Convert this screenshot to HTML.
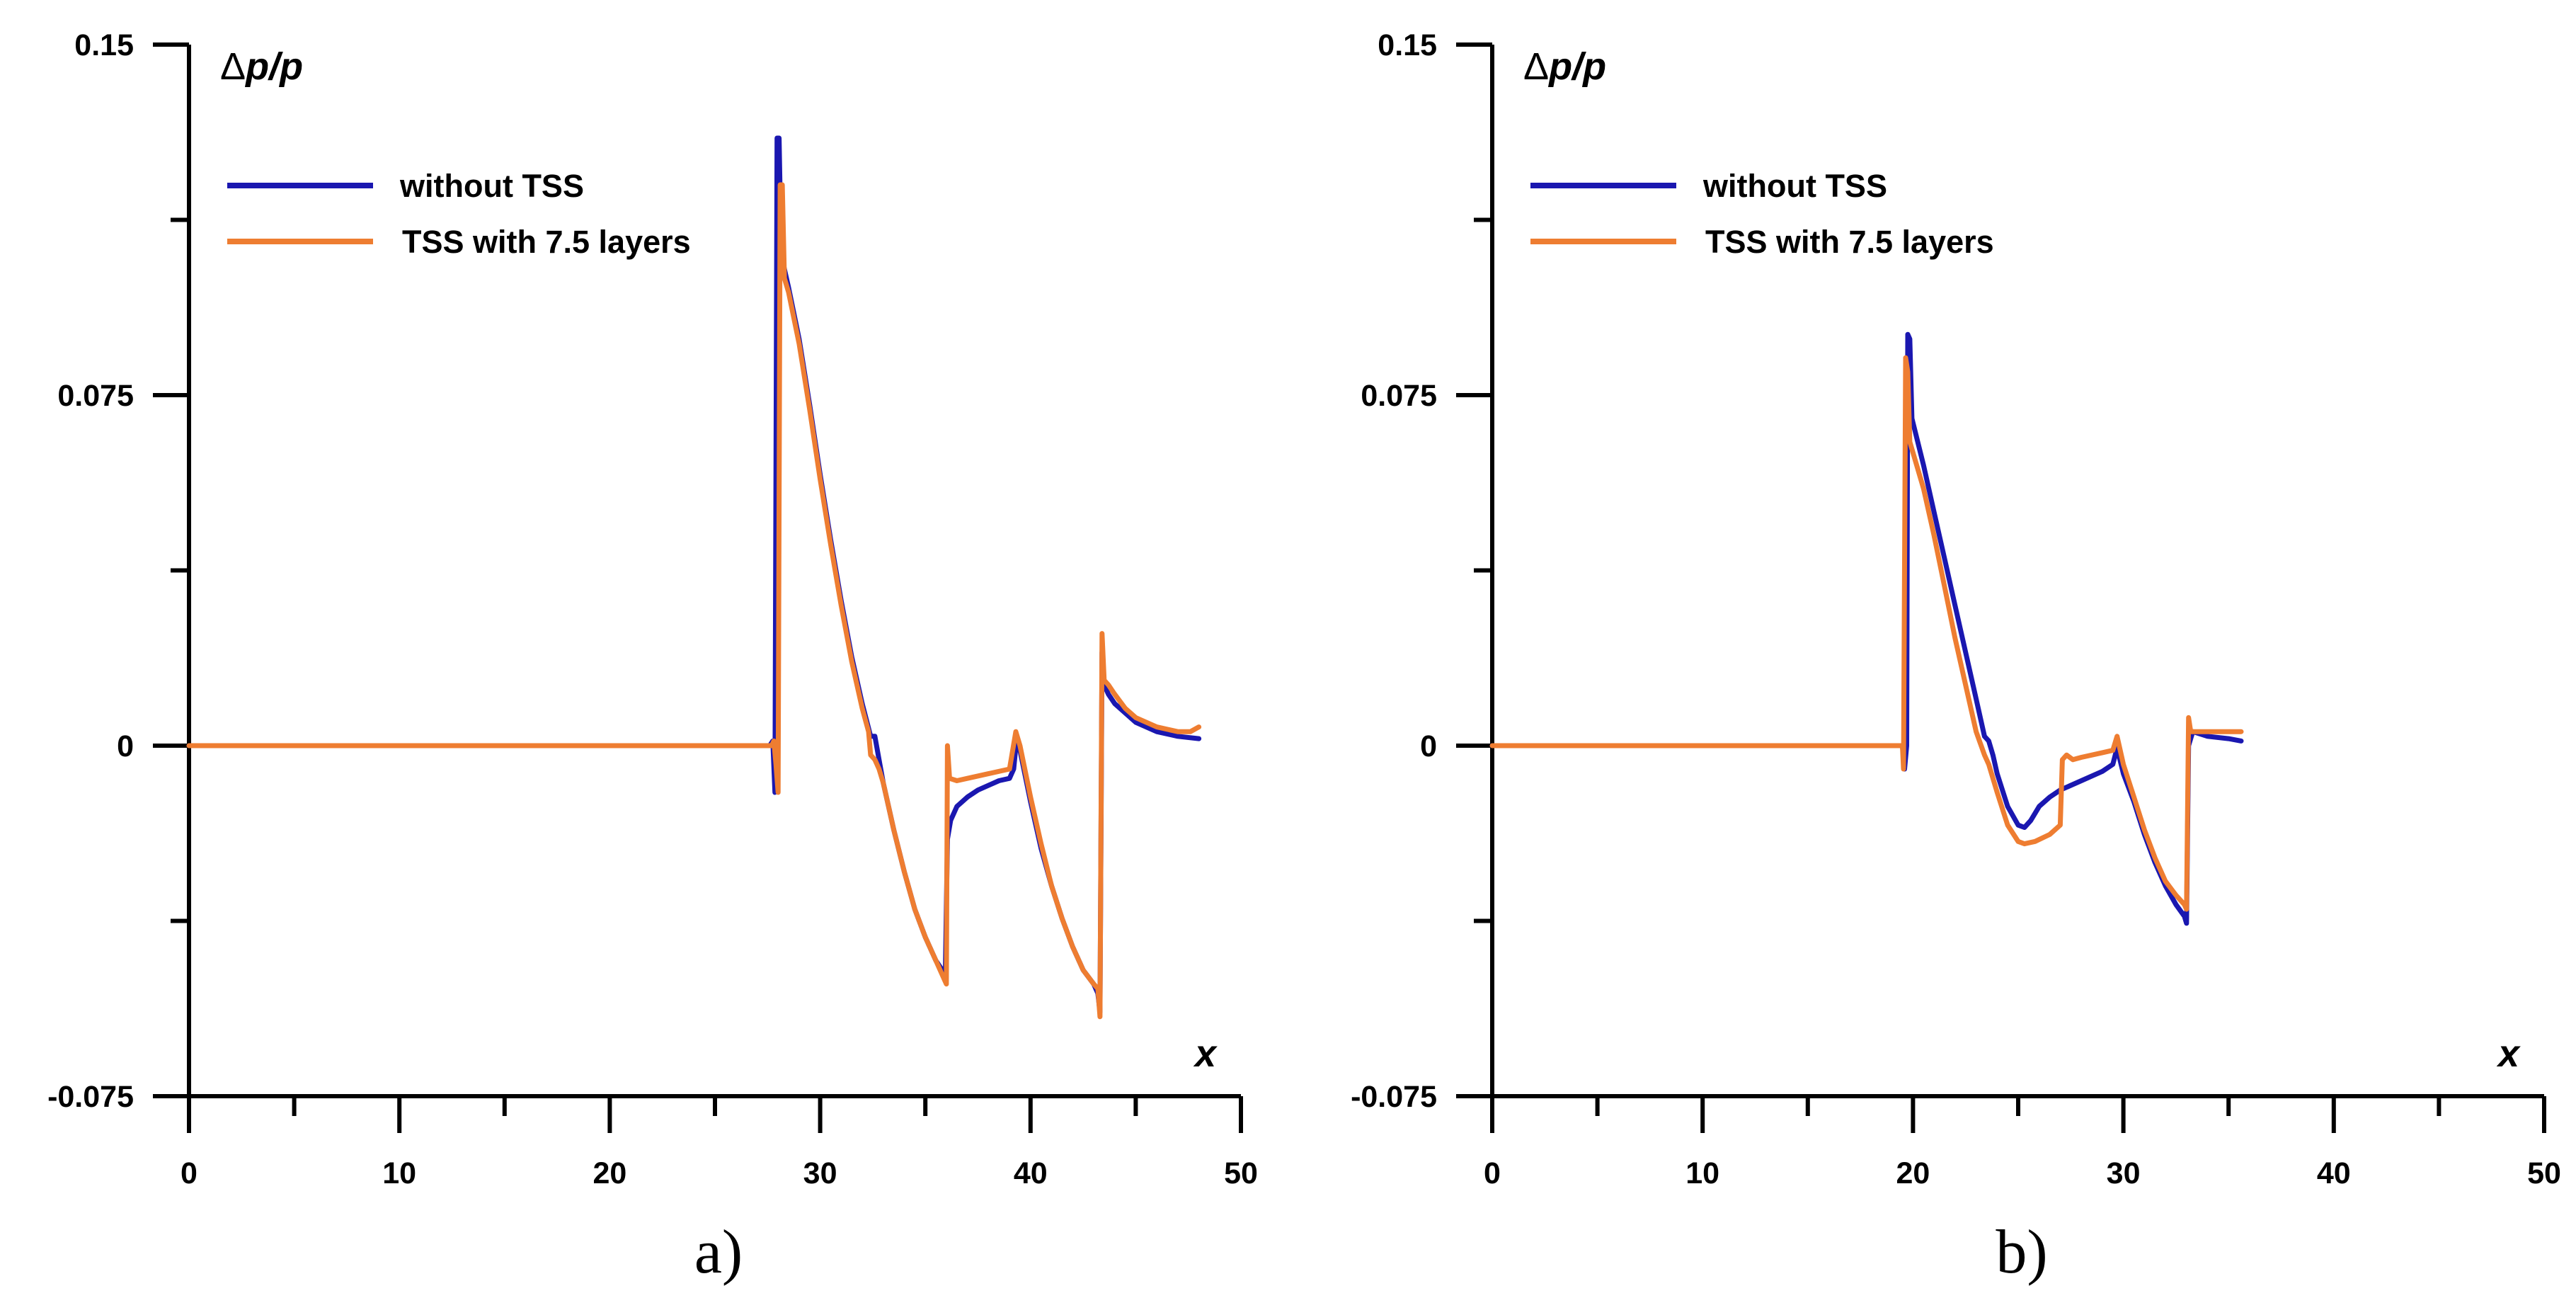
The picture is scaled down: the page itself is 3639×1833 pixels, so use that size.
<!DOCTYPE html>
<html><head><meta charset="utf-8"><style>
html,body{margin:0;padding:0;background:#fff;}
svg{display:block;}
text{font-family:"Liberation Sans",Arial,sans-serif;}
</style></head><body>
<svg id="chart" width="3639" height="1833" viewBox="0 0 3639 1833" xmlns="http://www.w3.org/2000/svg"></svg>
<script>
// ---- data ----
const xTicks = [0,10,20,30,40,50];
const yTickLabels = ["0.15","0.075","0","-0.075"];
const yTickValues = [0.15,0.075,0,-0.075];
const seriesNames = ["without TSS","TSS with 7.5 layers"];

const aBlueX = [0,27.6,27.75,27.85,27.95,28.05,28.15,28.5,29,29.5,30,30.5,31,31.5,32,32.4,32.6,32.8,33,33.5,34,34.5,35,35.5,35.8,35.95,36.05,36.2,36.5,37,37.5,38,38.5,39,39.2,39.35,39.5,40,40.5,41,41.5,42,42.5,43,43.2,43.3,43.4,43.5,43.7,44,44.5,45,46,47,48];
const aBlueV = [0,0,0.001,-0.01,0.13,0.13,0.105,0.098,0.087,0.073,0.058,0.044,0.031,0.019,0.009,0.002,0.002,-0.003,-0.008,-0.018,-0.027,-0.035,-0.041,-0.046,-0.048,-0.049,-0.02,-0.016,-0.013,-0.011,-0.0095,-0.0085,-0.0075,-0.007,-0.005,0.002,-0.001,-0.012,-0.022,-0.03,-0.037,-0.043,-0.048,-0.051,-0.053,-0.057,0.02,0.013,0.011,0.009,0.007,0.005,0.003,0.002,0.0015];
const aOrangeX = [0,27.7,27.8,27.9,28.0,28.1,28.2,28.3,28.5,29,29.5,30,30.5,31,31.5,32,32.3,32.4,32.6,32.8,33,33.5,34,34.5,35,35.5,35.9,36.0,36.05,36.15,36.5,37,38,39,39.3,39.5,40,40.5,41,41.5,42,42.5,43,43.2,43.3,43.4,43.5,43.7,44,44.5,45,46,47,47.6,48];
const aOrangeV = [0,0,0.001,-0.004,-0.01,0.12,0.12,0.1,0.097,0.086,0.072,0.057,0.043,0.03,0.018,0.008,0.003,-0.002,-0.003,-0.005,-0.008,-0.018,-0.027,-0.035,-0.041,-0.046,-0.05,-0.051,0.0,-0.007,-0.0075,-0.007,-0.006,-0.005,0.003,0.0,-0.011,-0.021,-0.03,-0.037,-0.043,-0.048,-0.051,-0.052,-0.058,0.024,0.014,0.013,0.011,0.008,0.006,0.004,0.003,0.003,0.004];

const bBlueX = [0,19.5,19.6,19.7,19.75,19.85,19.95,20.5,21,21.5,22,22.5,23,23.4,23.6,23.8,24,24.5,25,25.3,25.6,26,26.5,27,28,29,29.5,29.7,30,30.5,31,31.5,32,32.5,32.9,33.0,33.1,33.3,34,35,35.6];
const bBlueV = [0,0,-0.005,0.0,0.088,0.087,0.07,0.06,0.05,0.04,0.03,0.02,0.01,0.002,0.001,-0.002,-0.006,-0.013,-0.017,-0.0175,-0.016,-0.013,-0.011,-0.0095,-0.0075,-0.0055,-0.004,-0.0005,-0.006,-0.012,-0.019,-0.025,-0.03,-0.034,-0.0365,-0.038,0.0,0.003,0.002,0.0015,0.001];
const bOrangeX = [0,19.5,19.55,19.65,19.75,19.85,20.5,21,21.5,22,22.5,23,23.4,23.6,24,24.5,25,25.3,25.8,26.5,27,27.1,27.3,27.6,28,29,29.5,29.7,30,30.5,31,31.5,32,32.5,32.9,33.0,33.1,33.2,34,35,35.6];
const bOrangeV = [0,0,-0.005,0.083,0.08,0.065,0.055,0.045,0.034,0.023,0.013,0.003,-0.002,-0.004,-0.01,-0.017,-0.0205,-0.021,-0.0205,-0.019,-0.017,-0.003,-0.002,-0.003,-0.0025,-0.0015,-0.001,0.002,-0.004,-0.011,-0.018,-0.024,-0.029,-0.032,-0.034,-0.035,0.006,0.003,0.003,0.003,0.003];

// ---- drawing ----
const NS = "http://www.w3.org/2000/svg";
const svg = document.getElementById("chart");
const BLUE = "#1a17b0", ORANGE = "#ee7d31";
const yTop = 63, yBot = 1548;
function mk(tag, attrs, parent){ const e=document.createElementNS(NS,tag); for(const k in attrs) e.setAttribute(k,attrs[k]); (parent||svg).appendChild(e); return e; }

function panel(id, x0, x1, blueX, blueV, orX, orV, letter){
  const g = mk("g",{});
  
  
  const sx = v => x0 + (v/50)*(x1-x0);
  const sy = v => yBot - (v+0.075)/0.225*(yBot-yTop);
  const ax = mk("path",{d:`M${x0},${yTop} V${yBot} H${x1}`,fill:"none",stroke:"#000","stroke-width":6},g);
  
  
  for(let i=0;i<=6;i++){
    const v = 0.15 - i*0.0375, y = sy(v), major = i%2===0;
    mk("line",{x1:x0-(major?51:26),x2:x0,y1:y,y2:y,stroke:"#000","stroke-width":6},g);
  }
  yTickValues.forEach((v,i)=>{
    const t = mk("text",{x:x0-78,y:sy(v)+15,"text-anchor":"end","font-size":43,"font-weight":"bold"},g);
    t.textContent = yTickLabels[i];
    
    
  });
  for(let i=0;i<=10;i++){
    const x = sx(i*5), major = i%2===0;
    mk("line",{x1:x,x2:x,y1:yBot,y2:yBot+(major?52:28),stroke:"#000","stroke-width":6},g);
  }
  xTicks.forEach(v=>{
    const t = mk("text",{x:sx(v),y:1671,"text-anchor":"middle","font-size":43,"font-weight":"bold"},g);
    t.textContent = String(v);
    
    
  });
  const yt = mk("text",{x:x0+44,y:112,"font-size":54,"font-weight":"bold"},g);
  yt.innerHTML = '<tspan font-weight="normal">Δ</tspan><tspan font-style="italic">p/p</tspan>';
  
  
  const xt = mk("text",{x:x1-50,y:1506,"font-size":54,"font-weight":"bold","font-style":"italic","text-anchor":"middle"},g);
  xt.textContent = "x";
  
  
  const lg = mk("g",{},g);
  
  
  [[BLUE,262],[ORANGE,341]].forEach((c,i)=>{
    mk("line",{x1:x0+54,x2:x0+260,y1:c[1],y2:c[1],stroke:c[0],"stroke-width":8},lg);
    const t = mk("text",{x:x0+(i?301:298),y:c[1]+16,"font-size":45,"font-weight":"bold"},lg);
    t.textContent = seriesNames[i];
    
    
  });
  function line(xs, vs, color, name){
    const d = xs.map((x,i)=>(i?"L":"M")+sx(x).toFixed(1)+","+sy(vs[i]).toFixed(1)).join(" ");
    const p = mk("path",{d:d,fill:"none",stroke:color,"stroke-width":7,"stroke-linejoin":"round","stroke-linecap":"round"},g);
    
    
  }
  line(blueX, blueV, BLUE, "series-without-tss");
  line(orX, orV, ORANGE, "series-tss-7-5-layers");
  const lt = mk("text",{x:(x0+x1)/2+5,y:1797,"text-anchor":"middle","font-size":88},g);
  lt.setAttribute("style","font-family:'Liberation Serif',serif");
  lt.textContent = letter;
  
  
}
panel("a", 267, 1753, aBlueX, aBlueV, aOrangeX, aOrangeV, "a)");
panel("b", 2108, 3594, bBlueX, bBlueV, bOrangeX, bOrangeV, "b)");
</script>
</body></html>
